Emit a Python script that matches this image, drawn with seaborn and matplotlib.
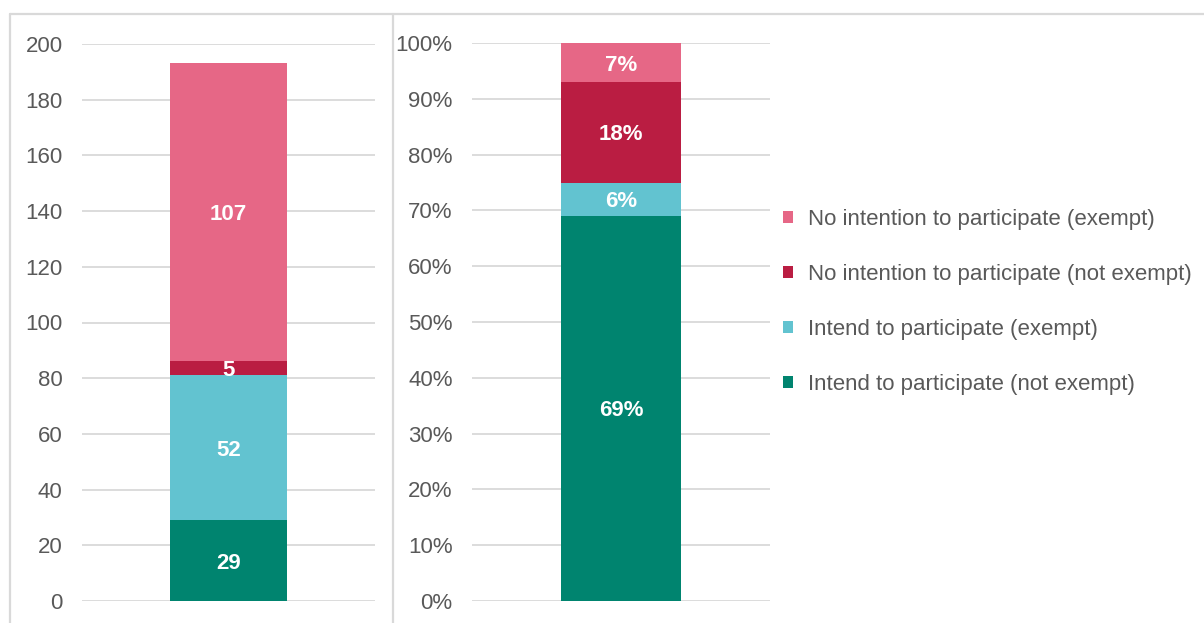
import matplotlib
matplotlib.use("Agg")
import matplotlib.pyplot as plt
from matplotlib.lines import Line2D
from matplotlib.patches import Patch
import numpy as np
import pandas as pd
import seaborn as sns

# Series, stacked from the bottom up
series = [
    "Intend to participate (not exempt)",
    "Intend to participate (exempt)",
    "No intention to participate (not exempt)",
    "No intention to participate (exempt)",
]
counts = [29, 52, 5, 107]
shares = [69, 6, 18, 7]
colors = ["#00846F", "#62C3D0", "#BA1D42", "#E66786"]

count_ticks = list(range(0, 201, 20))
share_ticks = list(range(0, 101, 10))

sns.set_theme(style="white")
plt.rcParams["font.family"] = ["Liberation Sans", "DejaVu Sans"]

GRID = "#D9D9D9"
TICK = "#595959"
FS = 16

W, H = 1204, 623
fig = plt.figure(figsize=(W / 100, H / 100), dpi=100)


def frac(x0, y0, x1, y1):
    return [x0 / W, 1 - y1 / H, (x1 - x0) / W, (y1 - y0) / H]


ax1 = fig.add_axes(frac(82, 44, 375, 601))
ax2 = fig.add_axes(frac(472, 43, 770, 601))


def stacked(ax, values, fmt):
    cum = np.cumsum(values)
    df = pd.DataFrame({"group": ["all"] * len(values), "top": cum,
                       "series": series})
    # tallest cumulative bar first so lower segments sit on top of it
    for i in range(len(values) - 1, -1, -1):
        sns.barplot(data=df.iloc[[i]], x="group", y="top", color=colors[i],
                    width=0.4, saturation=1, ax=ax, linewidth=0, zorder=3)
    for i, v in enumerate(values):
        ax.text(0, cum[i] - v / 2, fmt(v), ha="center", va="center_baseline",
                color="white", fontsize=FS, fontweight="bold", zorder=5)
    ax.set_xlim(-0.5, 0.5)
    ax.set_xlabel("")
    ax.set_ylabel("")
    ax.set_xticks([])
    for s in ax.spines.values():
        s.set_visible(False)
    ax.yaxis.grid(True, color=GRID, linewidth=1.3, zorder=0)
    ax.set_axisbelow(True)
    ax.tick_params(axis="y", length=0, pad=14, labelsize=FS, labelcolor=TICK)


stacked(ax1, counts, lambda v: f"{v}")
ax1.set_ylim(0, 200)
ax1.set_yticks(count_ticks)
ax1.set_yticklabels([str(t) for t in count_ticks])

stacked(ax2, shares, lambda v: f"{v}%")
ax2.set_ylim(0, 100)
ax2.set_yticks(share_ticks)
ax2.set_yticklabels([f"{t}%" for t in share_ticks])

# Panel frame and divider
for (x0, y0, x1, y1) in [(10, 14, 1204, 14), (10, 14, 10, 623),
                         (393, 14, 393, 623)]:
    fig.add_artist(Line2D([x0 / W, x1 / W], [1 - y0 / H, 1 - y1 / H],
                          color=GRID, linewidth=1.6, transform=fig.transFigure))

handles = [Patch(facecolor=colors[i], edgecolor="none", label=series[i])
           for i in range(len(series) - 1, -1, -1)]
fig.legend(handles=handles, loc="center left",
           bbox_to_anchor=(783 / W, 1 - 302 / H), frameon=False,
           fontsize=FS, labelcolor=TICK, handlelength=0.45, handleheight=0.45,
           handletextpad=0.68, labelspacing=1.54, borderpad=0,
           borderaxespad=0)

fig.savefig("out.png", dpi=100)
